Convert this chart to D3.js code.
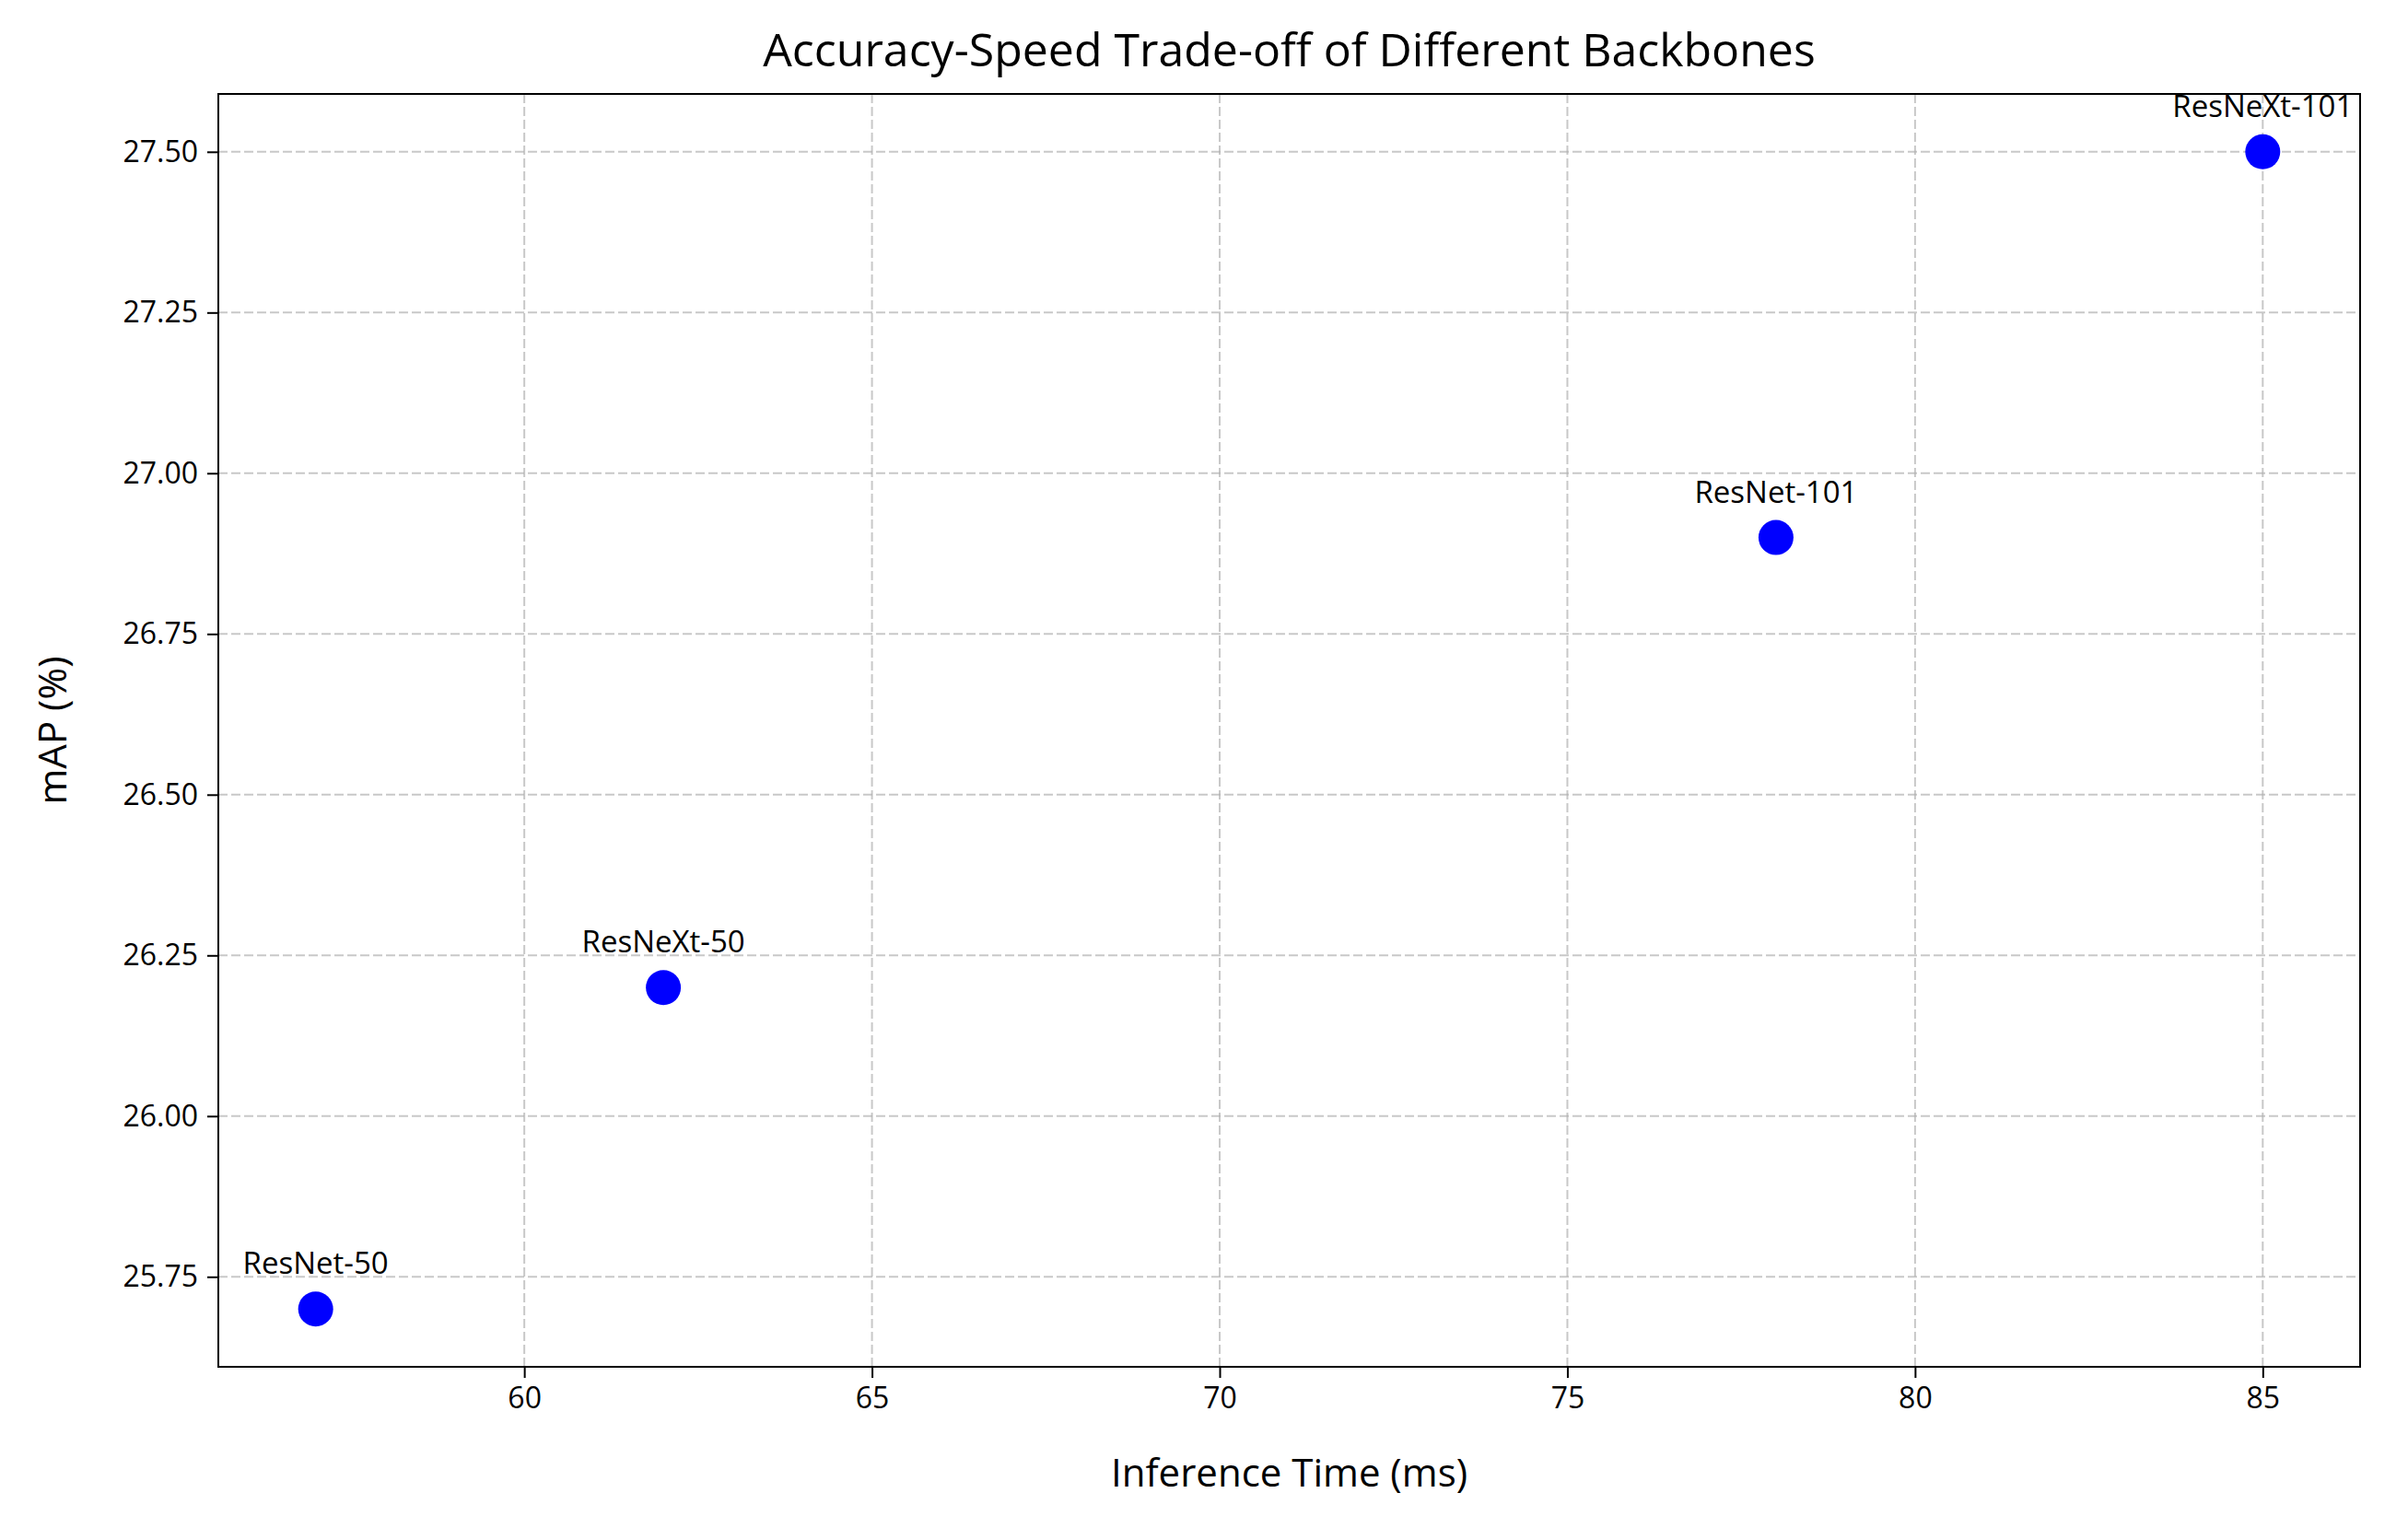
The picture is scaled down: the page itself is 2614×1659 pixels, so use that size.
<!DOCTYPE html><html><head><meta charset="utf-8">
<script src="https://cdn.jsdelivr.net/npm/d3@7"></script>
<style>body{margin:0;background:#fff}text{font-family:"Open Sans","Noto Sans",sans-serif}</style></head><body>
<svg id="c" width="2614" height="1659"></svg>
<script>
const names=["ResNet-50","ResNeXt-50","ResNet-101","ResNeXt-101"];
const times=[57,62,78,85];
const maps=[25.7,26.2,26.9,27.5];
const xTicks=[60,65,70,75,80,85];
const yTicks=[25.75,26.00,26.25,26.50,26.75,27.00,27.25,27.50];
const svg=d3.select("#c");
const L=237,R=2562,T=102,B=1484;
const x=d3.scaleLinear().domain([55.6,86.4]).range([L,R]);
const y=d3.scaleLinear().domain([25.61,27.59]).range([B,T]);
const g=svg.append("g");
g.selectAll(".gx").data(xTicks).join("line").attr("x1",d=>x(d)).attr("x2",d=>x(d)).attr("y1",T).attr("y2",B).attr("stroke","#b0b0b0").attr("stroke-opacity",0.7).attr("stroke-width",2).attr("stroke-dasharray","10,4");
g.selectAll(".gy").data(yTicks).join("line").attr("y1",d=>y(d)).attr("y2",d=>y(d)).attr("x1",L).attr("x2",R).attr("stroke","#b0b0b0").attr("stroke-opacity",0.7).attr("stroke-width",2).attr("stroke-dasharray","10,4");
const xa=svg.append("g").attr("transform",`translate(0,${B})`).call(d3.axisBottom(x).tickValues(xTicks).tickSize(12).tickPadding(10).tickFormat(d3.format("d")));
const ya=svg.append("g").attr("transform",`translate(${L},0)`).call(d3.axisLeft(y).tickValues(yTicks).tickSize(12).tickPadding(10).tickFormat(d3.format(".2f")));
[xa,ya].forEach(a=>{a.select(".domain").remove();a.selectAll("line").attr("stroke-width",2);a.selectAll("text").attr("font-size",32).attr("fill","#000").style("font-family","'Open Sans',sans-serif");});
svg.append("rect").attr("x",L).attr("y",T).attr("width",R-L).attr("height",B-T).attr("fill","none").attr("stroke","#000").attr("stroke-width",2);
svg.selectAll(".pt").data(names).join("circle").attr("cx",(d,i)=>x(times[i])).attr("cy",(d,i)=>y(maps[i])).attr("r",19).attr("fill","#0000ff");
svg.selectAll(".lb").data(names).join("text").attr("x",(d,i)=>x(times[i])).attr("y",(d,i)=>y(maps[i])-38).attr("text-anchor","middle").attr("font-size",33).text(d=>d);
svg.append("text").attr("x",(L+R)/2).attr("y",72).attr("text-anchor","middle").attr("font-size",50).text("Accuracy-Speed Trade-off of Different Backbones");
svg.append("text").attr("x",(L+R)/2).attr("y",1614).attr("text-anchor","middle").attr("font-size",42).text("Inference Time (ms)");
svg.append("text").attr("transform",`translate(72,${(T+B)/2}) rotate(-90)`).attr("text-anchor","middle").attr("font-size",42).text("mAP (%)");
</script></body></html>
